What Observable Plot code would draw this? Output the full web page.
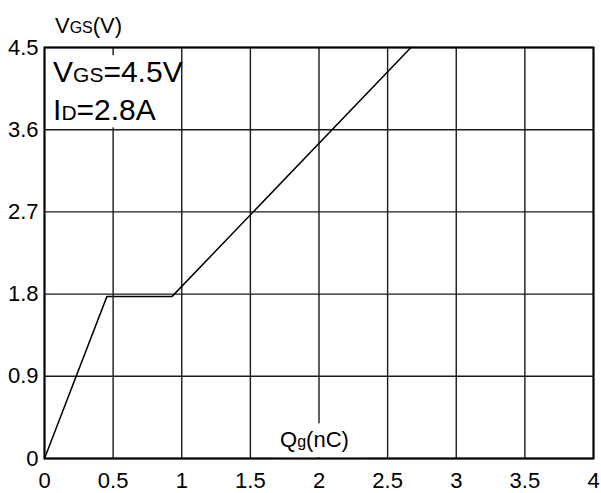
<!DOCTYPE html>
<html><head><meta charset="utf-8">
<script src="https://cdn.jsdelivr.net/npm/d3@7"></script>
<script src="https://cdn.jsdelivr.net/npm/@observablehq/plot@0.6"></script>
<style>body{margin:0;background:#fff}</style>
</head><body><div id="chart"></div>
<script>
const xTicks = [0, 0.5, 1, 1.5, 2, 2.5, 3, 3.5, 4];
const yTicks = [0, 0.9, 1.8, 2.7, 3.6, 4.5];
const qg = [0, 0.455, 0.93, 2.67];
const vgs = [0, 1.775, 1.775, 4.5];
const curve = qg.map((q, i) => ({q, v: vgs[i]}));

const font = "'Liberation Sans', Arial, sans-serif";
const chart = Plot.plot({
  width: 601, height: 493,
  marginLeft: 44, marginRight: 8, marginTop: 47, marginBottom: 35,
  x: {domain: [0, 4]},
  y: {domain: [0, 4.5]},
  style: {fontFamily: font, background: "white", color: "black"},
  marks: [
    Plot.ruleX(xTicks, {stroke: "#1a1a1a", strokeWidth: 1.4}),
    Plot.ruleY(yTicks, {stroke: "#1a1a1a", strokeWidth: 1.4}),
    Plot.line(curve, {x: "q", y: "v", stroke: "black", strokeWidth: 1.5}),
    Plot.frame({stroke: "black", strokeWidth: 2}),
    Plot.axisX(xTicks, {tickSize: 0, tickPadding: 14, fontSize: 22, label: null, tickFormat: d => String(d)}),
    Plot.axisY(yTicks, {tickSize: 0, tickPadding: 6, fontSize: 22, label: null, tickFormat: d => String(d)})
  ]
});
document.getElementById("chart").appendChild(chart);

const sx = chart.scale("x"), sy = chart.scale("y");
const svg = d3.select(chart);
const g = svg.append("g").attr("font-family", font).attr("fill", "black").attr("text-anchor", "start");

// white backgrounds behind annotations
g.append("rect").attr("x", sx.apply(0.03)).attr("y", sy.apply(4.41))
  .attr("width", sx.apply(0.97) - sx.apply(0.03)).attr("height", sy.apply(3.62) - sy.apply(4.41)).attr("fill", "white");
g.append("rect").attr("x", sx.apply(1.70)).attr("y", sy.apply(0.38))
  .attr("width", sx.apply(2.32) - sx.apply(1.70)).attr("height", sy.apply(0.01) - sy.apply(0.38)).attr("fill", "white");

function label(x, y, parts) {
  const t = g.append("text").attr("x", sx.apply(x)).attr("y", sy.apply(y)).attr("text-anchor", "start");
  parts.forEach(([s, size]) => t.append("tspan").attr("font-size", size).text(s));
}
label(0.08, 4.65, [["V", 22], ["GS", 16], ["(V)", 22]]);
label(0.066, 4.117, [["V", 30], ["GS", 21], ["=4.5V", 30]]);
label(0.066, 3.70, [["I", 30], ["D", 21], ["=2.8A", 30]]);
label(1.72, 0.12, [["Q", 22], ["g", 16], ["(nC)", 22]]);
</script></body></html>
